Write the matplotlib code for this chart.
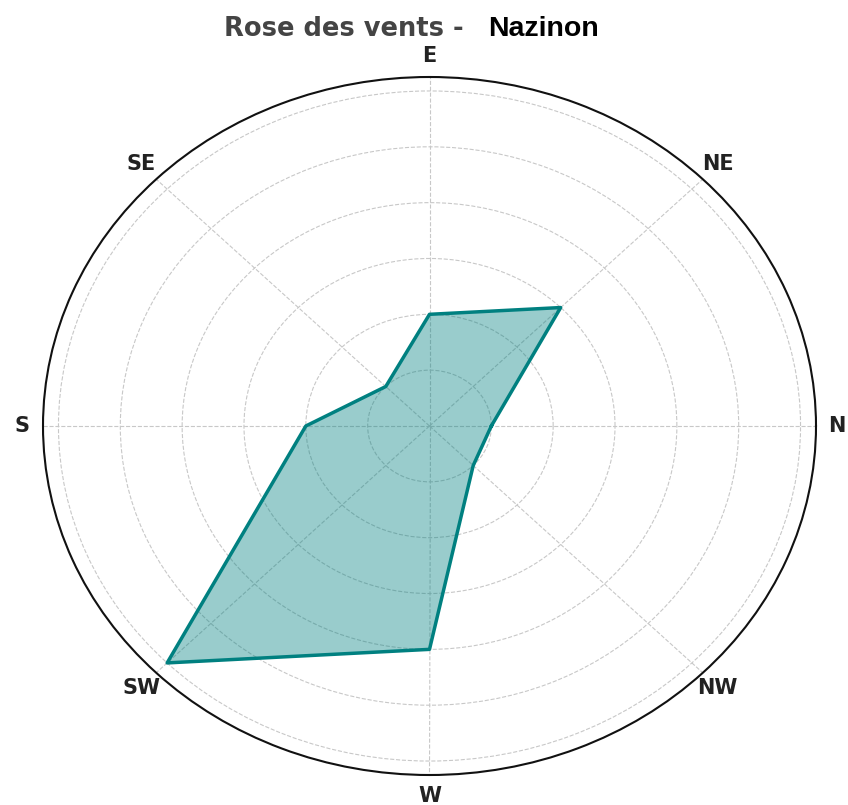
import numpy as np
import matplotlib
matplotlib.use("Agg")
import matplotlib.pyplot as plt

directions = ['N', 'NE', 'E', 'SE', 'S', 'SW', 'W', 'NW']
angles_deg = [0, 45, 90, 135, 180, 225, 270, 315]
values = [1, 3, 2, 1, 2, 6, 4, 1]
r_ticks = [1, 2, 3, 4, 5, 6]
r_max = 6.25
station = "Nazinon"

fig = plt.figure(figsize=(8.48, 8.05), dpi=100)
ax = fig.add_axes([43/848, 30/805, 773/848, 698/805], projection='polar')
ax.set_aspect('auto')

theta = np.deg2rad(angles_deg)
theta_c = np.append(theta, theta[0])
vals_c = np.append(values, values[0])
ax.fill(theta_c, vals_c, color='#008080', alpha=0.4, zorder=2)
ax.plot(theta_c, vals_c, color='#008080', linewidth=2.5, zorder=3)

ax.set_ylim(0, r_max)
ax.set_yticks(r_ticks)
ax.set_yticklabels([])
ax.set_xticks(theta)
ax.set_xticklabels(directions, fontsize=15, fontweight='bold', color='#222222')
ax.tick_params(axis='x', pad=4.5)
ax.grid(True, linestyle='--', color='#c8c8c8', linewidth=0.8)
ax.spines['polar'].set_color('#111111')
ax.spines['polar'].set_linewidth(1.5)

fig.text(464/848, 1 - 36/805, "Rose des vents -", ha='right', va='baseline',
         fontsize=18.5, fontweight='bold', color='#444444', family='DejaVu Sans')
fig.text(488/848, 1 - 36/805, station, ha='left', va='baseline',
         fontsize=20.5, fontweight='bold', color='black', family='Liberation Sans')

fig.savefig('out.png', dpi=100)
